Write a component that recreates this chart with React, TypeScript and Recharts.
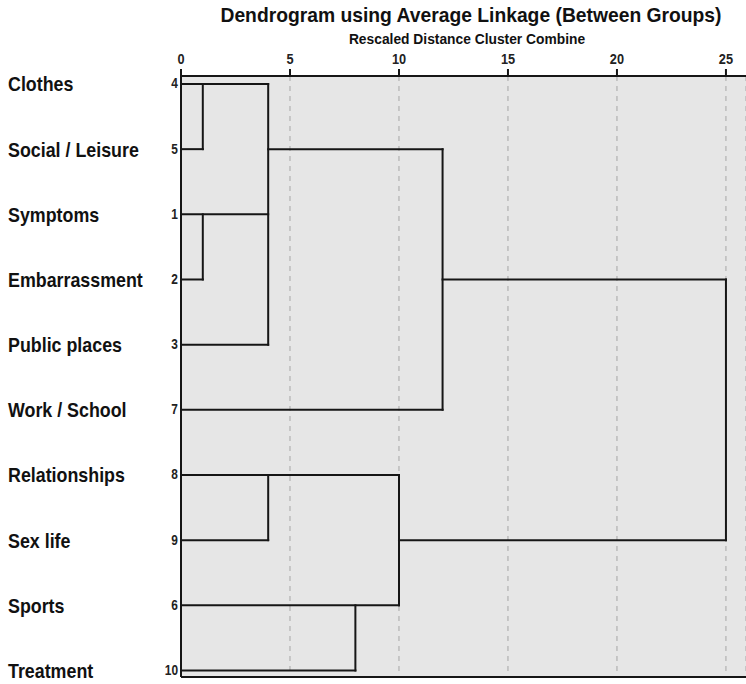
import { ComposedChart, Line, XAxis, YAxis, CartesianGrid } from 'recharts';

const leaves = [
  'Clothes',
  'Social / Leisure',
  'Symptoms',
  'Embarrassment',
  'Public places',
  'Work / School',
  'Relationships',
  'Sex life',
  'Sports',
  'Treatment',
];
const caseNumbers = [4, 5, 1, 2, 3, 7, 8, 9, 6, 10];
const distanceTicks = [0, 5, 10, 15, 20, 25];
const rowTicks = leaves.map((_, i) => i);

// horizontal pieces of the tree: leaf row, rescaled distance from / to
const horizontalLinks = [
  { row: 0, from: 0, to: 4 },
  { row: 1, from: 0, to: 1 },
  { row: 1, from: 4, to: 12 },
  { row: 2, from: 0, to: 4 },
  { row: 3, from: 0, to: 1 },
  { row: 3, from: 12, to: 25 },
  { row: 4, from: 0, to: 4 },
  { row: 5, from: 0, to: 12 },
  { row: 6, from: 0, to: 10 },
  { row: 7, from: 0, to: 4 },
  { row: 7, from: 10, to: 25 },
  { row: 8, from: 0, to: 10 },
  { row: 9, from: 0, to: 8 },
];

// vertical joins: distance where clusters combine, first and last row
const verticalLinks = [
  { at: 1, top: 0, bottom: 1 },
  { at: 1, top: 2, bottom: 3 },
  { at: 4, top: 0, bottom: 4 },
  { at: 12, top: 1, bottom: 5 },
  { at: 25, top: 3, bottom: 7 },
  { at: 4, top: 6, bottom: 7 },
  { at: 8, top: 8, bottom: 9 },
  { at: 10, top: 6, bottom: 8 },
];

const segments = [
  ...horizontalLinks.map((h) => [
    { x: h.from, y: h.row },
    { x: h.to, y: h.row },
  ]),
  ...verticalLinks.map((v) => [
    { x: v.at, y: v.top },
    { x: v.at, y: v.bottom },
  ]),
];

const LINE = '#161616';
const sans = '"Liberation Sans", Arial, sans-serif';

function LeafTick({ y, payload }: any) {
  const i = payload.value as number;
  return (
    <g>
      <text
        transform={`translate(8,${y + 7.5}) scale(0.85,1)`}
        fontFamily={sans}
        fontWeight={700}
        fontSize={21}
        fill="#111"
      >
        {leaves[i]}
      </text>
      <text
        transform={`translate(178,${y + 4.5}) scale(0.85,1)`}
        textAnchor="end"
        fontFamily={sans}
        fontWeight={700}
        fontSize={14}
        fill="#222"
      >
        {caseNumbers[i]}
      </text>
    </g>
  );
}

function DistanceTick({ x, y, payload }: any) {
  return (
    <text
      transform={`translate(${x},${y}) scale(0.85,1)`}
      textAnchor="middle"
      fontFamily={sans}
      fontWeight={700}
      fontSize={15}
      fill="#222"
    >
      {payload.value}
    </text>
  );
}

export default function App() {
  return (
    <div style={{ position: 'relative', width: 746, height: 684, background: '#fff' }}>
      <style>{'body{margin:0}'}</style>
      <ComposedChart width={746} height={684} margin={{ top: 40, right: 0, bottom: 6, left: 0 }}>
        <CartesianGrid
          horizontal={false}
          fill="#e6e6e6"
          stroke="#a6a6a6"
          strokeDasharray="5 5"
        />
        <XAxis
          dataKey="x"
          type="number"
          orientation="top"
          domain={[0, 25.92]}
          ticks={distanceTicks}
          interval={0}
          height={36}
          tickSize={7}
          tickMargin={5}
          axisLine={{ stroke: LINE, strokeWidth: 2 }}
          tickLine={{ stroke: LINE, strokeWidth: 2 }}
          tick={<DistanceTick />}
          allowDataOverflow
        />
        <XAxis
          xAxisId="bottom"
          dataKey="x"
          type="number"
          orientation="bottom"
          domain={[0, 25.92]}
          height={1}
          tick={false}
          tickLine={false}
          axisLine={{ stroke: LINE, strokeWidth: 2 }}
        />
        <YAxis
          dataKey="y"
          type="number"
          reversed
          domain={[-0.1225, 9.1]}
          ticks={rowTicks}
          interval={0}
          width={181}
          tickLine={false}
          axisLine={{ stroke: LINE, strokeWidth: 2 }}
          tick={<LeafTick />}
          allowDataOverflow
        />
        {segments.map((seg, i) => (
          <Line
            key={i}
            data={seg}
            dataKey="y"
            type="linear"
            stroke={LINE}
            strokeWidth={2}
            strokeLinecap="square"
            dot={false}
            activeDot={false}
            legendType="none"
            isAnimationActive={false}
          />
        ))}
      </ComposedChart>
      <svg
        width={746}
        height={60}
        style={{ position: 'absolute', left: 0, top: 0, pointerEvents: 'none' }}
      >
        <text x={471} y={22} textAnchor="middle" fontFamily={sans} fontWeight={700} fontSize={19.3} fill="#111">
          Dendrogram using Average Linkage (Between Groups)
        </text>
        <text x={467} y={43.5} textAnchor="middle" fontFamily={sans} fontWeight={700} fontSize={13.8} fill="#111">
          Rescaled Distance Cluster Combine
        </text>
      </svg>
    </div>
  );
}
